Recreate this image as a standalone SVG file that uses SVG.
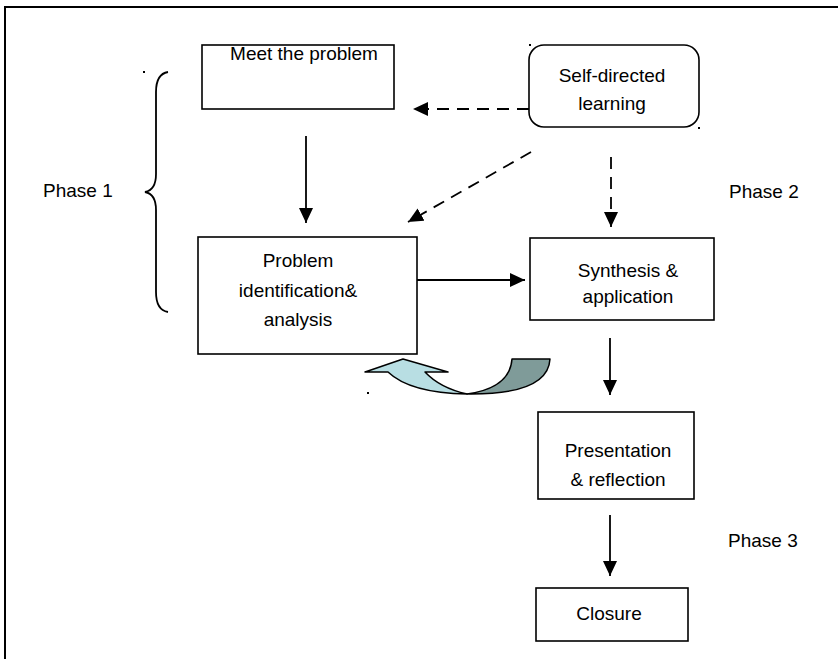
<svg xmlns="http://www.w3.org/2000/svg" width="838" height="659" viewBox="0 0 838 659">
<style>
.box{fill:#fff;stroke:#000;stroke-width:1.6}
.t{font-family:"Liberation Sans",Arial,sans-serif;font-size:19px;fill:#000}
.c{text-anchor:middle}
.ln{stroke:#000;stroke-width:1.8;fill:none}
.dash{stroke-dasharray:12 8}
</style>
<defs>
<marker id="ah" markerUnits="userSpaceOnUse" markerWidth="16" markerHeight="15" refX="15" refY="7" orient="auto">
<path d="M0,0 L15,7 L0,14 z" fill="#000"/>
</marker>
</defs>
<rect width="838" height="659" fill="#fff"/>
<g id="frame">
<path d="M5,659 L5,7 L838,7" fill="none" stroke="#000" stroke-width="2"/>
</g>
<g id="brace">
<path d="M168,72 Q156,74 156,92 L156,174 Q156,190 145,192 Q156,194 156,210 L156,292 Q156,310 168,312" class="ln"/>
<text class="t" x="43" y="197">Phase 1</text>
</g>
<g id="meet">
<rect class="box" x="202" y="45" width="192" height="64"/>
<text class="t c" x="304" y="60">Meet the problem</text>
</g>
<g id="sdl">
<rect class="box" x="529" y="45" width="170" height="82" rx="15"/>
<text class="t c" x="612" y="82">Self-directed</text>
<text class="t c" x="612" y="110">learning</text>
</g>
<g id="problem">
<rect class="box" x="198" y="237" width="219" height="117"/>
<text class="t c" x="298" y="267">Problem</text>
<text class="t c" x="298" y="297">identification&amp;</text>
<text class="t c" x="298" y="326">analysis</text>
</g>
<g id="synthesis">
<rect class="box" x="530" y="238" width="184" height="82"/>
<text class="t c" x="628" y="277">Synthesis &amp;</text>
<text class="t c" x="628" y="303">application</text>
</g>
<g id="presentation">
<rect class="box" x="538" y="412" width="156" height="87"/>
<text class="t c" x="618" y="457">Presentation</text>
<text class="t c" x="618" y="486">&amp; reflection</text>
</g>
<g id="closure">
<rect class="box" x="536" y="588" width="152" height="53"/>
<text class="t c" x="609" y="620">Closure</text>
</g>
<g id="labels">
<text class="t" x="729" y="198">Phase 2</text>
<text class="t" x="728" y="547">Phase 3</text>
</g>
<g id="connectors">
<line class="ln dash" x1="529" y1="109" x2="413" y2="109" marker-end="url(#ah)"/>
<line class="ln dash" x1="531" y1="152" x2="408" y2="222" marker-end="url(#ah)"/>
<line class="ln dash" x1="611" y1="157" x2="611" y2="227" marker-end="url(#ah)"/>
<line class="ln" x1="306" y1="136" x2="306" y2="223" marker-end="url(#ah)"/>
<line class="ln" x1="417" y1="280" x2="525" y2="280" marker-end="url(#ah)"/>
<line class="ln" x1="610" y1="338" x2="610" y2="395" marker-end="url(#ah)"/>
<line class="ln" x1="610" y1="515" x2="610" y2="576" marker-end="url(#ah)"/>
</g>
<g id="curved-arrow" stroke="#000" stroke-width="1.5" stroke-linejoin="round">
<path d="M512,359 L550,359 Q548,395 467,394 Q510,388 512,359 Z" fill="#7f9b99"/>
<path d="M467,394 Q410,393 388,372 L365,372 L403,359 L448,372 L425,372 Q440,388 467,394 Z" fill="#b8dee3"/>
</g>
<g id="dots" fill="#000">
<rect x="143" y="71" width="2" height="2"/>
<rect x="529" y="44" width="2" height="2"/>
<rect x="698" y="127" width="2" height="2"/>
<rect x="367" y="392" width="2" height="2"/>
</g>
</svg>
